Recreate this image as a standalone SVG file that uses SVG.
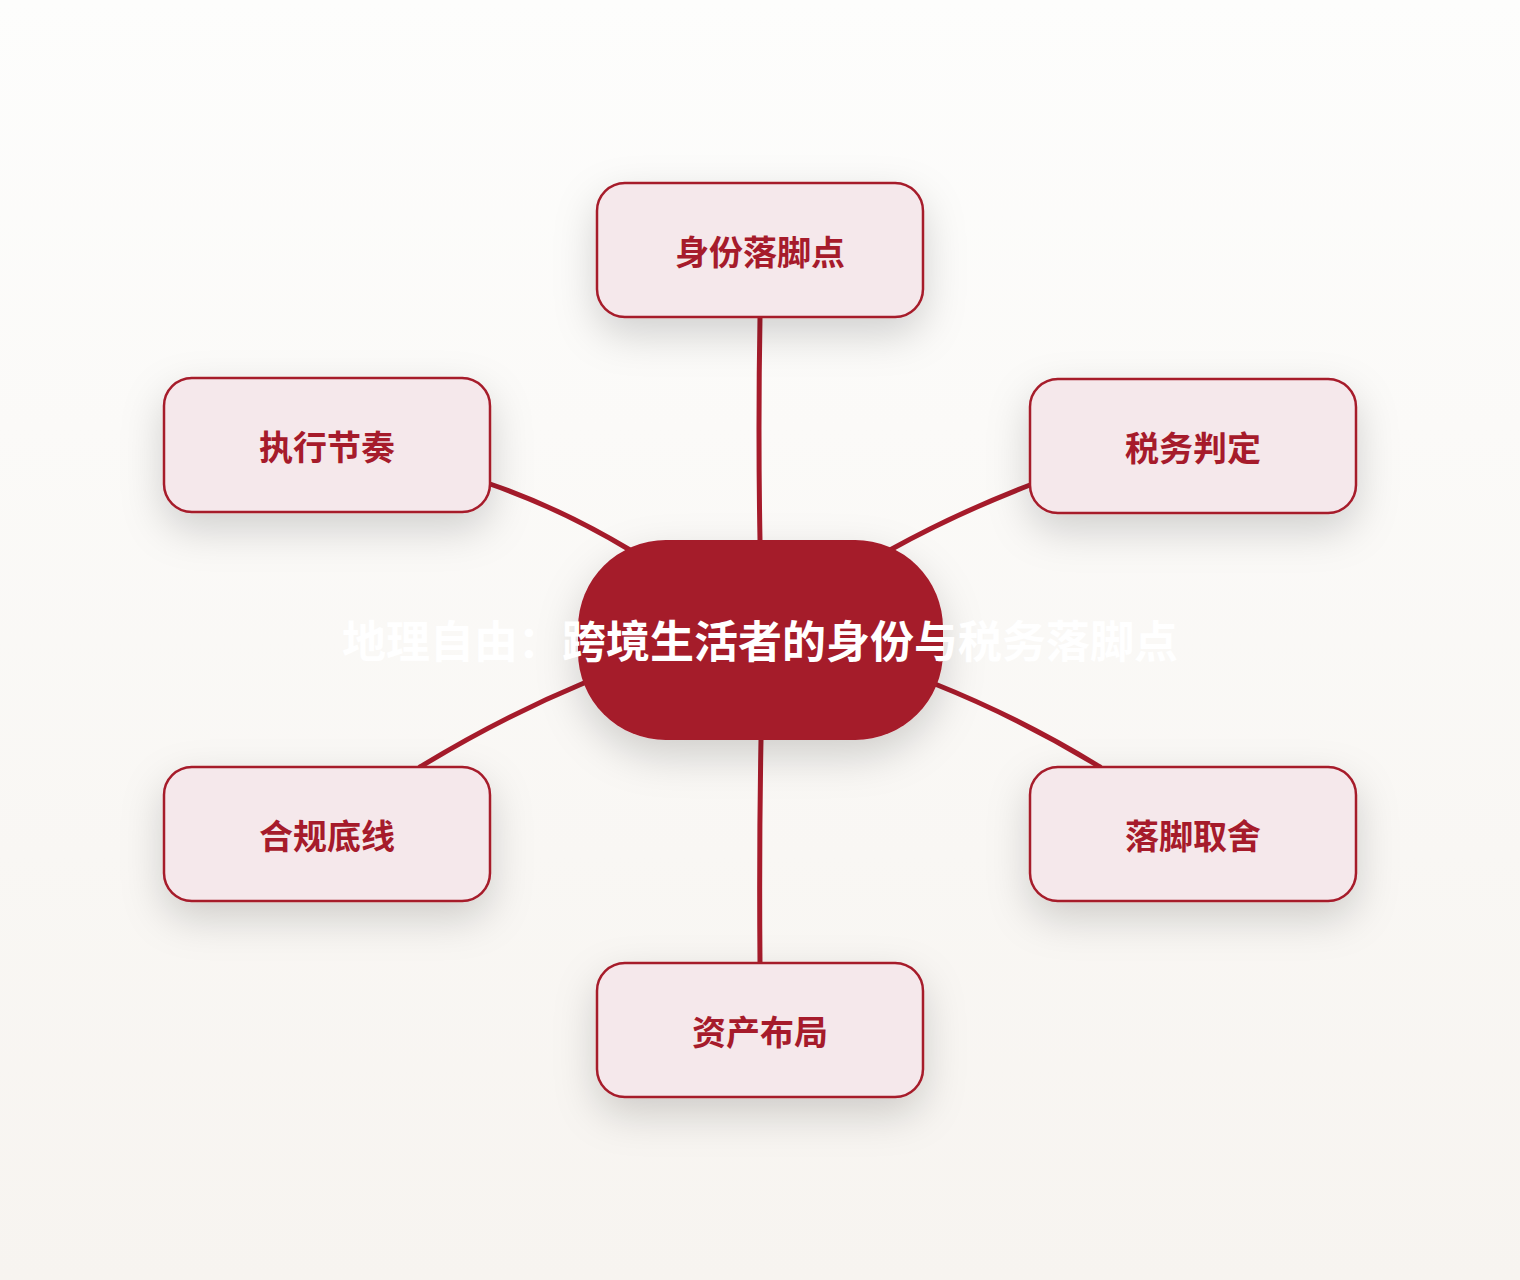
<svg xmlns="http://www.w3.org/2000/svg" width="1520" height="1280" viewBox="0 0 1520 1280">
<defs>
<linearGradient id="bg" x1="0" y1="0" x2="0" y2="1">
<stop offset="0" stop-color="#fdfdfc"/>
<stop offset="1" stop-color="#f7f4f0"/>
</linearGradient>
<filter id="sh" x="-40%" y="-50%" width="180%" height="220%">
<feDropShadow dx="0" dy="16" stdDeviation="20" flood-color="#000" flood-opacity="0.17"/>
</filter>
<style>
.node rect{fill:#f5e8eb;stroke:#a61b2b;stroke-width:2.5}
.node text{fill:#a61b2b;font-family:"Noto Sans CJK SC","Noto Sans",sans-serif;font-weight:700;font-size:34px;text-anchor:middle}
.edges path{fill:none;stroke:#a61b2b;stroke-width:5;stroke-linecap:round}
.center rect{fill:#a51a2a}
.center text{fill:#ffffff;font-family:"Noto Sans CJK SC","Noto Sans",sans-serif;font-weight:700;font-size:44px;text-anchor:middle}
</style>
</defs>
<rect width="1520" height="1280" fill="url(#bg)"/>
<g class="edges">
<path d="M760 317 Q758 430 760 540"/>
<path d="M490 484 Q560 508 630 550"/>
<path d="M1030 485 Q955 514 890 550"/>
<path d="M584 683 Q500 718 420 767"/>
<path d="M935 684 Q1020 718 1100 767"/>
<path d="M761 740 Q759 850 760 963"/>
</g>
<g id="center" class="center">
<rect x="578" y="540" width="365" height="200" rx="88" ry="88" filter="url(#sh)"/>
<text x="760" y="658">地理自由：跨境生活者的身份与税务落脚点</text>
</g>
<g id="n1" class="node">
<rect x="597" y="183" width="326" height="134" rx="28" filter="url(#sh)"/>
<text x="760" y="265">身份落脚点</text>
</g>
<g id="n2" class="node">
<rect x="1030" y="379" width="326" height="134" rx="28" filter="url(#sh)"/>
<text x="1193" y="461">税务判定</text>
</g>
<g id="n3" class="node">
<rect x="1030" y="767" width="326" height="134" rx="28" filter="url(#sh)"/>
<text x="1193" y="849">落脚取舍</text>
</g>
<g id="n4" class="node">
<rect x="597" y="963" width="326" height="134" rx="28" filter="url(#sh)"/>
<text x="760" y="1045">资产布局</text>
</g>
<g id="n5" class="node">
<rect x="164" y="767" width="326" height="134" rx="28" filter="url(#sh)"/>
<text x="327" y="849">合规底线</text>
</g>
<g id="n6" class="node">
<rect x="164" y="378" width="326" height="134" rx="28" filter="url(#sh)"/>
<text x="327" y="460">执行节奏</text>
</g>
</svg>
